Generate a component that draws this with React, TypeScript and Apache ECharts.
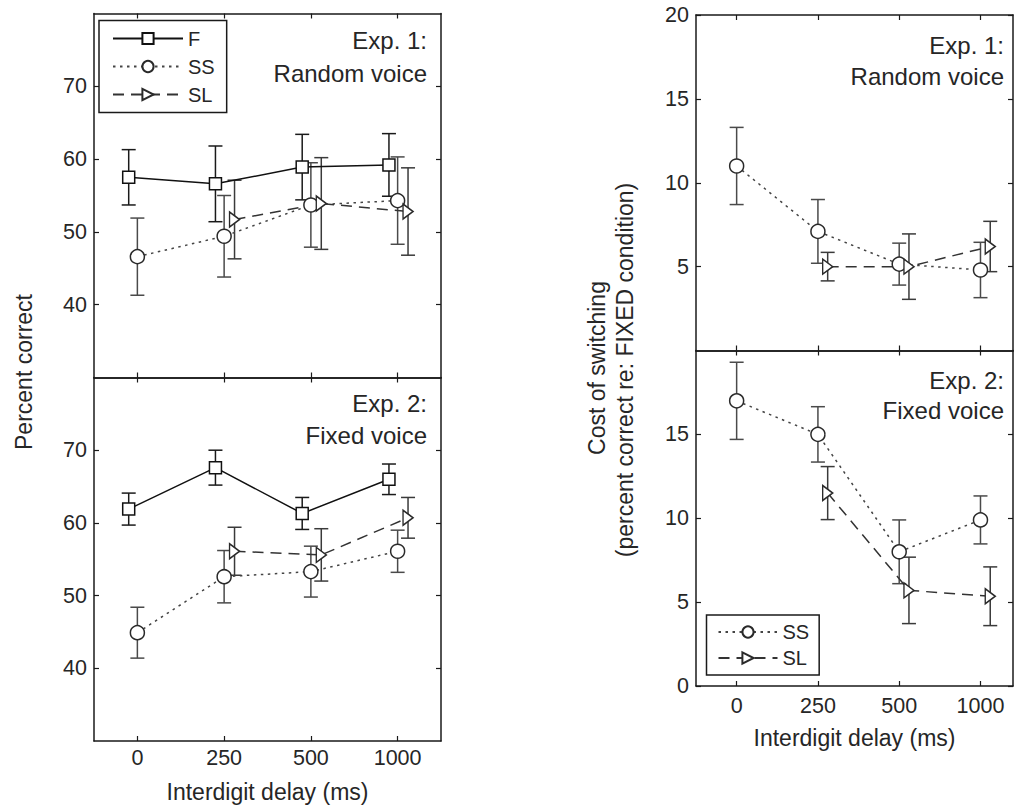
import React, { useEffect, useRef } from "react";
import * as echarts from "echarts";

// ---- categories / ticks ----
const X_POS = [0, 1, 2, 3];
const X_LABELS = ["0", "250", "500", "1000"];
const SL_POS = [1, 2, 3];
const LEFT_Y_TICKS = [40, 50, 60, 70];
const RIGHT_TOP_Y_TICKS = [5, 10, 15, 20];
const RIGHT_BOTTOM_Y_TICKS = [0, 5, 10, 15];

// ---- Exp. 1 (Random voice), percent correct ----
const exp1F = [57.5, 56.6, 58.9, 59.2];
const exp1FErr = [3.8, 5.2, 4.5, 4.3];
const exp1SS = [46.6, 49.4, 53.7, 54.3];
const exp1SSErr = [5.3, 5.6, 5.8, 6.0];
const exp1SL = [51.7, 53.9, 52.8];
const exp1SLErr = [5.4, 6.3, 6.0];

// ---- Exp. 2 (Fixed voice), percent correct ----
const exp2F = [61.9, 67.6, 61.3, 66.0];
const exp2FErr = [2.2, 2.4, 2.2, 2.1];
const exp2SS = [44.9, 52.6, 53.3, 56.1];
const exp2SSErr = [3.5, 3.6, 3.5, 2.9];
const exp2SL = [56.1, 55.6, 60.7];
const exp2SLErr = [3.3, 3.6, 2.8];

// ---- Cost of switching, Exp. 1 ----
const cost1SS = [11.0, 7.1, 5.15, 4.8];
const cost1SSErr = [2.3, 1.9, 1.25, 1.65];
const cost1SL = [5.0, 5.0, 6.2];
const cost1SLErr = [0.85, 1.95, 1.5];

// ---- Cost of switching, Exp. 2 ----
const cost2SS = [17.0, 15.0, 8.0, 9.9];
const cost2SSErr = [2.3, 1.65, 1.9, 1.43];
const cost2SL = [11.5, 5.7, 5.35];
const cost2SLErr = [1.58, 1.98, 1.75];

const FONT = "'Liberation Sans', Arial, Helvetica, sans-serif";
const TXT = "#262626";
const AX = "#1a1a1a";
const TRI = "path://M0,0L10,6L0,12Z";

const OFF_F = -0.1;
const OFF_SS = 0;
const OFF_SL = 0.12;

const pts = (vals: number[], xs: number[], off: number) =>
  vals.map((v, i) => [xs[i] + off, v]);
const errs = (vals: number[], e: number[], xs: number[], off: number) =>
  vals.map((v, i) => [xs[i] + off, v - e[i], v + e[i]]);

const STYLES: Record<string, any> = {
  F: { symbol: "rect", size: 12, line: { color: "#111", width: 1.5, type: "solid" }, border: "#111", err: "#1a1a1a" },
  SS: { symbol: "circle", size: 14, line: { color: "#444", width: 1.5, type: [2.5, 4.5] }, border: "#2a2a2a", err: "#4a4a4a" },
  SL: { symbol: TRI, size: [12, 15], line: { color: "#333", width: 1.5, type: [11, 7] }, border: "#2a2a2a", err: "#3a3a3a" },
};

function lineSeries(name: string, gi: number, data: number[][]) {
  const s = STYLES[name];
  return {
    type: "line",
    name,
    xAxisIndex: 2 * gi,
    yAxisIndex: 2 * gi,
    data,
    symbol: s.symbol,
    symbolSize: s.size,
    symbolKeepAspect: true,
    showSymbol: true,
    silent: true,
    z: 4,
    lineStyle: { color: s.line.color, width: s.line.width, type: s.line.type },
    itemStyle: { color: "#fff", borderColor: s.border, borderWidth: 1.5 },
  };
}

function errSeries(name: string, gi: number, data: number[][]) {
  const color = STYLES[name].err;
  return {
    type: "custom",
    name: "err_" + name + "_" + gi,
    xAxisIndex: 2 * gi,
    yAxisIndex: 2 * gi,
    data,
    silent: true,
    z: 3,
    encode: { x: 0, y: [1, 2] },
    renderItem: (params: any, api: any) => {
      const x = api.value(0);
      const lo = api.coord([x, api.value(1)]);
      const hi = api.coord([x, api.value(2)]);
      const w = 7;
      const st = { stroke: color, lineWidth: 1.5 };
      return {
        type: "group",
        children: [
          { type: "line", shape: { x1: hi[0], y1: hi[1], x2: lo[0], y2: lo[1] }, style: st },
          { type: "line", shape: { x1: hi[0] - w, y1: hi[1], x2: hi[0] + w, y2: hi[1] }, style: st },
          { type: "line", shape: { x1: lo[0] - w, y1: lo[1], x2: lo[0] + w, y2: lo[1] }, style: st },
        ],
      };
    },
  };
}

const axisLine = { show: true, onZero: false, lineStyle: { color: AX, width: 1.5 } };

function xAxes(gi: number, min: number, max: number, showLabels: boolean, margin: number, name: string, nameGap: number) {
  const base = {
    gridIndex: gi,
    type: "value",
    min,
    max,
    axisLine,
    splitLine: { show: false },
    axisTick: { show: true, inside: true, length: 5, customValues: X_POS, lineStyle: { color: AX, width: 1.2 } },
  };
  return [
    {
      ...base,
      position: "bottom",
      axisLabel: {
        show: showLabels,
        customValues: X_POS,
        formatter: (v: number) => X_LABELS[Math.round(v)] ?? "",
        margin,
        fontSize: 21.5,
        color: TXT,
        fontFamily: FONT,
      },
      name,
      nameLocation: "middle",
      nameGap,
      nameTextStyle: { fontSize: 23, color: TXT, fontFamily: FONT },
    },
    { ...base, position: "top", axisLabel: { show: false } },
  ];
}

function yAxes(gi: number, min: number, max: number, ticks: number[]) {
  const base = {
    gridIndex: gi,
    type: "value",
    min,
    max,
    axisLine,
    splitLine: { show: false },
    axisTick: { show: true, inside: true, length: 5, customValues: ticks, lineStyle: { color: AX, width: 1.2 } },
  };
  return [
    {
      ...base,
      position: "left",
      axisLabel: {
        show: true,
        customValues: ticks,
        margin: 7,
        fontSize: 21.5,
        color: TXT,
        fontFamily: FONT,
      },
    },
    { ...base, position: "right", axisLabel: { show: false } },
  ];
}

function label(text: string, x: number, y: number, size: number, align = "right", rotation = 0) {
  return {
    type: "text",
    x,
    y,
    rotation,
    silent: true,
    z: 20,
    style: { text, fill: TXT, fontSize: size, fontFamily: FONT, align, verticalAlign: "middle" },
  };
}

export default function App() {
  const ref = useRef<HTMLDivElement>(null);
  useEffect(() => {
    if (!ref.current) return;
    const chart = echarts.init(ref.current, undefined, { renderer: "svg" });
    const option: any = {
      animation: false,
      backgroundColor: "#fff",
      textStyle: { fontFamily: FONT },
      grid: [
        { left: 94, top: 13.5, width: 347, height: 364, outerBoundsMode: "none" },
        { left: 94, top: 377.5, width: 347, height: 363.5, outerBoundsMode: "none" },
        { left: 696, top: 15, width: 317, height: 335.5, outerBoundsMode: "none" },
        { left: 696, top: 350.5, width: 317, height: 335.5, outerBoundsMode: "none" },
      ],
      xAxis: [
        ...xAxes(0, -0.5, 3.5, false, 6, "", 0),
        ...xAxes(1, -0.5, 3.5, true, 6, "Interdigit delay (ms)", 39),
        ...xAxes(2, -0.5, 3.4, false, 9, "", 0),
        ...xAxes(3, -0.5, 3.4, true, 9, "Interdigit delay (ms)", 40),
      ],
      yAxis: [
        ...yAxes(0, 30, 80, LEFT_Y_TICKS),
        ...yAxes(1, 30, 80, LEFT_Y_TICKS),
        ...yAxes(2, 0, 20, RIGHT_TOP_Y_TICKS),
        ...yAxes(3, 0, 20, RIGHT_BOTTOM_Y_TICKS),
      ],
      legend: [
        {
          data: ["F", "SS", "SL"],
          orient: "vertical",
          left: 99,
          top: 20.5,
          padding: [8, 12, 8, 13],
          itemGap: 8,
          itemWidth: 70,
          itemHeight: 14,
          borderColor: AX,
          borderWidth: 1.5,
          borderRadius: 0,
          backgroundColor: "#fff",
          selectedMode: false,
          z: 10,
          textStyle: { fontSize: 20, lineHeight: 20, color: TXT, fontFamily: FONT },
        },
        {
          data: ["SS", "SL"],
          orient: "vertical",
          left: 706.5,
          top: 615,
          padding: [7, 10, 7, 11],
          itemGap: 6,
          itemWidth: 59,
          itemHeight: 14,
          borderColor: AX,
          borderWidth: 1.5,
          borderRadius: 0,
          backgroundColor: "#fff",
          selectedMode: false,
          z: 10,
          textStyle: { fontSize: 20, lineHeight: 20, color: TXT, fontFamily: FONT },
        },
      ],
      series: [
        // Left top: Exp. 1
        errSeries("F", 0, errs(exp1F, exp1FErr, X_POS, OFF_F)),
        errSeries("SS", 0, errs(exp1SS, exp1SSErr, X_POS, OFF_SS)),
        errSeries("SL", 0, errs(exp1SL, exp1SLErr, SL_POS, OFF_SL)),
        lineSeries("F", 0, pts(exp1F, X_POS, OFF_F)),
        lineSeries("SS", 0, pts(exp1SS, X_POS, OFF_SS)),
        lineSeries("SL", 0, pts(exp1SL, SL_POS, OFF_SL)),
        // Left bottom: Exp. 2
        errSeries("F", 1, errs(exp2F, exp2FErr, X_POS, OFF_F)),
        errSeries("SS", 1, errs(exp2SS, exp2SSErr, X_POS, OFF_SS)),
        errSeries("SL", 1, errs(exp2SL, exp2SLErr, SL_POS, OFF_SL)),
        lineSeries("F", 1, pts(exp2F, X_POS, OFF_F)),
        lineSeries("SS", 1, pts(exp2SS, X_POS, OFF_SS)),
        lineSeries("SL", 1, pts(exp2SL, SL_POS, OFF_SL)),
        // Right top: cost Exp. 1
        errSeries("SS", 2, errs(cost1SS, cost1SSErr, X_POS, OFF_SS)),
        errSeries("SL", 2, errs(cost1SL, cost1SLErr, SL_POS, OFF_SL)),
        lineSeries("SS", 2, pts(cost1SS, X_POS, OFF_SS)),
        lineSeries("SL", 2, pts(cost1SL, SL_POS, OFF_SL)),
        // Right bottom: cost Exp. 2
        errSeries("SS", 3, errs(cost2SS, cost2SSErr, X_POS, OFF_SS)),
        errSeries("SL", 3, errs(cost2SL, cost2SLErr, SL_POS, OFF_SL)),
        lineSeries("SS", 3, pts(cost2SS, X_POS, OFF_SS)),
        lineSeries("SL", 3, pts(cost2SL, SL_POS, OFF_SL)),
      ],
      graphic: {
        elements: [
          label("Exp. 1:", 427, 40, 24),
          label("Random voice", 427, 73.5, 24),
          label("Exp. 2:", 427, 403.5, 24),
          label("Fixed voice", 427, 435, 24),
          label("Exp. 1:", 1004, 45, 24),
          label("Random voice", 1004, 76, 24),
          label("Exp. 2:", 1004, 380, 24),
          label("Fixed voice", 1004, 410, 24),
          label("Percent correct", 24, 372, 23, "center", Math.PI / 2),
          label("Cost of switching", 597, 368, 23, "center", Math.PI / 2),
          label("(percent correct re: FIXED condition)", 625, 370, 23, "center", Math.PI / 2),
        ],
      },
    };
    chart.setOption(option);
    return () => chart.dispose();
  }, []);
  return (
    <div
      ref={ref}
      style={{ position: "absolute", left: 0, top: 0, width: "1015px", height: "809px" }}
    />
  );
}
